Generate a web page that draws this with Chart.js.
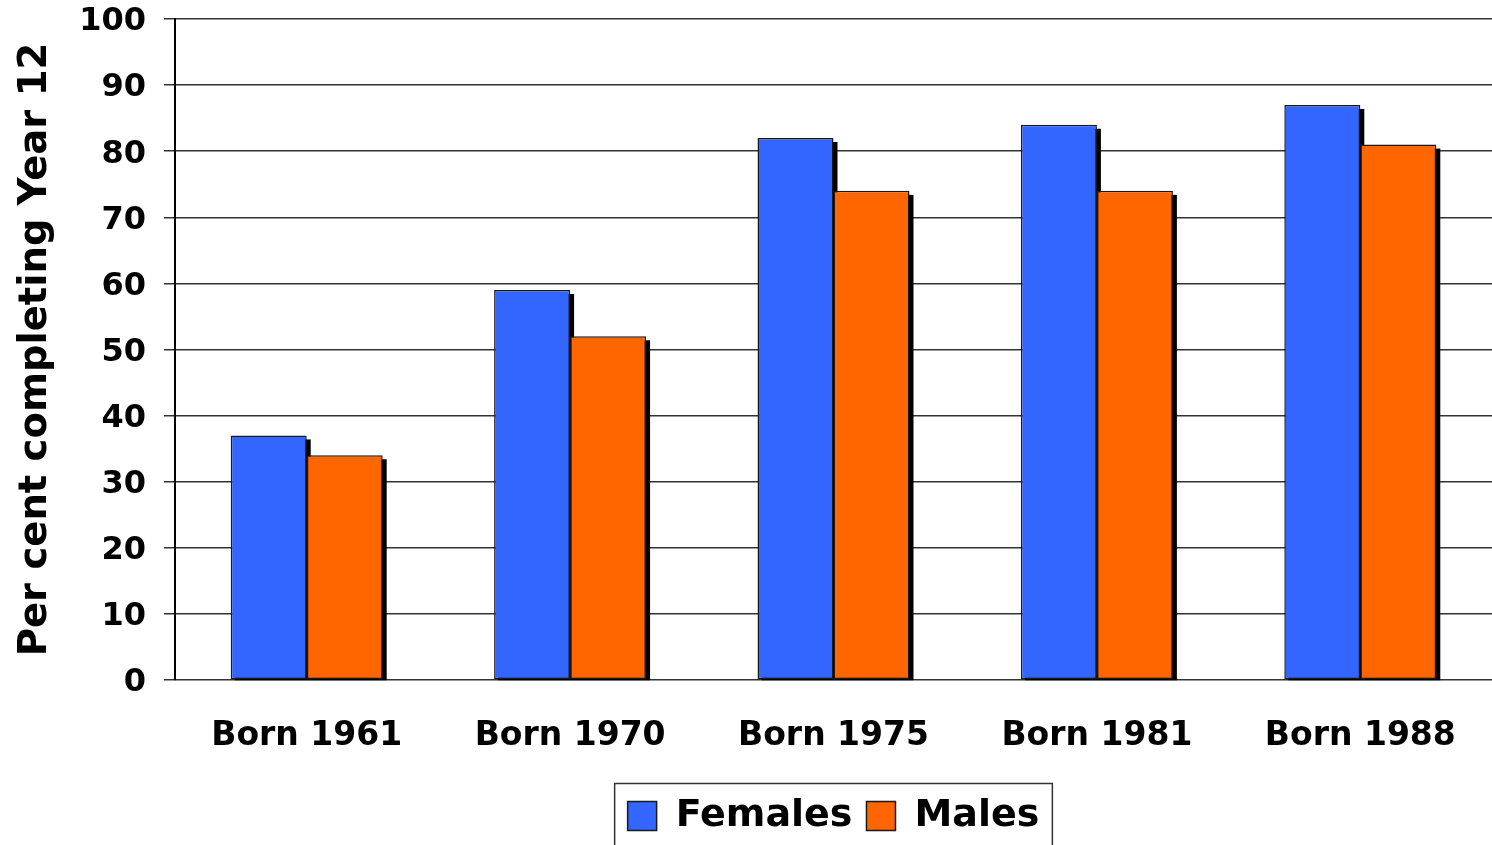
<!DOCTYPE html>
<html>
<head>
<meta charset="utf-8">
<script src="https://cdn.jsdelivr.net/npm/chart.js@4"></script>
<style>
	html, body { margin: 0; padding: 0; background: #fff; }
	#wrap { width: 1492px; height: 845px; }
</style>
</head>
<body>
<div id="wrap"><canvas id="myChart" width="1492" height="845"></canvas></div>
<script>
const categories = ["Born 1961", "Born 1970", "Born 1975", "Born 1981", "Born 1988"];
const females = [37, 59, 82, 84, 87];
const males = [34, 52, 74, 74, 81];
const yTicks = [0, 10, 20, 30, 40, 50, 60, 70, 80, 90, 100];

const FONT = "'DejaVu Sans', Verdana, sans-serif";

// black drop shadow offset down/right behind every bar
const barShadow = {
	id: "barShadow",
	beforeDatasetsDraw(chart) {
		const ctx = chart.ctx;
		ctx.save();
		ctx.fillStyle = "#000";
		chart.data.datasets.forEach((ds, i) => {
			chart.getDatasetMeta(i).data.forEach(bar => {
				const {x, y, base, width} = bar.getProps(["x", "y", "base", "width"], true);
				ctx.fillRect(x - width / 2 + 4, y + 4, width, base - y - 3);
			});
		});
		ctx.restore();
	}
};

// legend sits centred under the plot area, not the whole canvas
const legendShift = {
	id: "legendShift",
	afterLayout(chart) {
		chart.legend.left = chart.chartArea.left;
		chart.legend.right = chart.chartArea.right;
	}
};

// frame around the legend, like the original
const legendFrame = {
	id: "legendFrame",
	afterDraw(chart) {
		const boxes = chart.legend.legendHitBoxes;
		if (!boxes || !boxes.length) return;
		const left = Math.min(...boxes.map(b => b.left)) - 13;
		const right = Math.max(...boxes.map(b => b.left + b.width)) + 13;
		const ctx = chart.ctx;
		ctx.save();
		ctx.strokeStyle = "#333";
		ctx.lineWidth = 1.5;
		ctx.strokeRect(left, 783.5, right - left, 80);
		ctx.restore();
	}
};

function bar({label, color, data}) {
	return {
		label,
		data,
		backgroundColor: color,
		borderColor: "#1a1a1a",
		borderWidth: 1.5,
		borderSkipped: false,
		barPercentage: 1,
		categoryPercentage: 0.577
	};
}

const ctx = document.getElementById("myChart").getContext("2d");
const myChart = new Chart(ctx, {
	type: "bar",
	data: {
		labels: categories,
		datasets: [
			bar({label: "Females", color: "#3366FF", data: females}),
			bar({label: "Males", color: "#FF6600", data: males})
		]
	},
	options: {
		responsive: false,
		animation: false,
		layout: {
			padding: {top: 19, right: 0, bottom: 0, left: 0}
		},
		scales: {
			x: {
				grid: {display: false},
				border: {display: false},
				ticks: {
					color: "#000",
					padding: 29,
					font: {family: FONT, size: 33, weight: "bold"}
				},
				afterFit: scale => { scale.height = 103; }
			},
			y: {
				min: 0,
				max: 100,
				afterBuildTicks: scale => { scale.ticks = yTicks.map(v => ({value: v})); },
				grid: {
					color: "#333",
					lineWidth: 1.5,
					tickLength: 11
				},
				border: {display: true, color: "#000", width: 2},
				ticks: {
					color: "#000",
					padding: 18,
					labelOffset: 3,
					font: {family: FONT, size: 32, weight: "bold"}
				},
				title: {
					display: true,
					text: "Per cent completing Year 12",
					color: "#000",
					padding: {top: 13, bottom: 0},
					font: {family: FONT, size: 38.5, weight: "bold"}
				},
				afterFit: scale => {
					scale.width = 175;
					scale.paddingTop = 17;
					scale.paddingBottom = 17;
				}
			}
		},
		plugins: {
			legend: {
				position: "bottom",
				labels: {
					color: "#000",
					boxWidth: 29,
					boxHeight: 29,
					padding: 14,
					font: {family: FONT, size: 38, weight: "bold"}
				}
			},
			tooltip: {enabled: false}
		}
	},
	plugins: [barShadow, legendShift, legendFrame]
});
</script>
</body>
</html>
